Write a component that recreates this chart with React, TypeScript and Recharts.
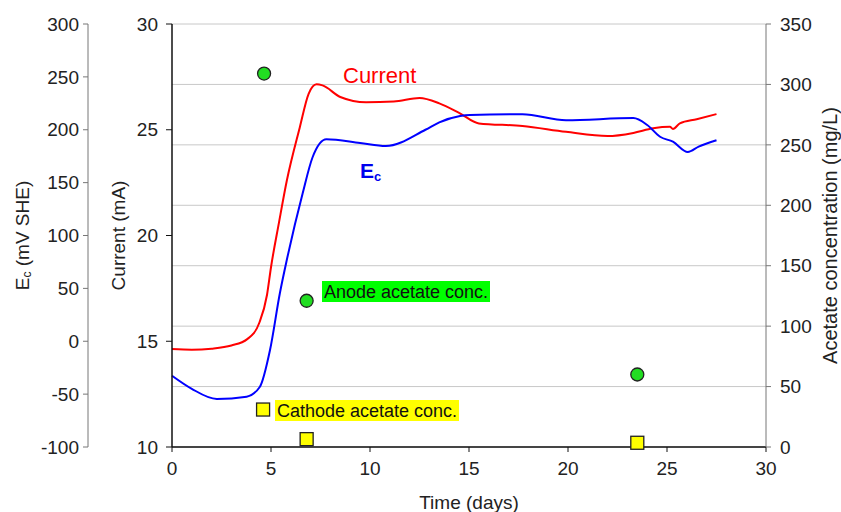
import React from "react";
import { CartesianGrid, ComposedChart, Line, Scatter, XAxis, YAxis } from "recharts";

// current (mA) vs time (days)
const currentDays = [0, 1, 2, 3, 3.8, 4.4, 4.8, 5.0, 5.4, 5.8, 6.45, 6.9, 7.3, 7.6, 8.5, 9.8, 11.2, 12.5, 13.5, 14.5, 15.5, 17.7, 19.9, 22, 23.3, 24.3, 25.15, 25.3, 25.65, 26.5, 27.5];
const currentMa = [14.63, 14.6, 14.65, 14.8, 15.1, 15.85, 17.2, 18.5, 20.6, 22.6, 25.1, 26.7, 27.15, 27.1, 26.55, 26.3, 26.33, 26.5, 26.25, 25.8, 25.3, 25.18, 24.9, 24.7, 24.85, 25.07, 25.14, 25.04, 25.3, 25.5, 25.74];

// cathode potential Ec (mV SHE)
const ecDays = [0, 1, 2.26, 3.77, 4.44, 4.95, 5.45, 5.8, 6.6, 7.1, 7.8, 9.5, 10.8, 12.8, 13.5, 14.55, 15.05, 17.7, 19.9, 23.3, 24.0, 24.65, 25.3, 26.05, 26.6, 27.5];
const ecMv = [-32.6, -45, -54.6, -52.4, -43, -8.3, 45.6, 77, 140, 174, 191, 187.5, 184.6, 200, 207, 213, 214, 214.6, 209, 211, 204.5, 193.4, 188.7, 179, 184, 190];

// acetate samples (mg/L)
const anodeDays = [4.65, 6.8, 23.5];
const anodeAcetate = [309, 121, 60];
const cathodeDays = [4.6, 6.8, 23.5];
const cathodeAcetate = [31, 6.5, 3.5];

const dayTicks = [0, 5, 10, 15, 20, 25, 30];
const ecTicks = [-100, -50, 0, 50, 100, 150, 200, 250, 300];
const currentTicks = [10, 15, 20, 25, 30];
const acetateTicks = [0, 50, 100, 150, 200, 250, 300, 350];

const toPoints = (xs: number[], ys: number[]) => xs.map((day, i) => ({ day, value: ys[i] }));

const FONT = "'Liberation Sans', Arial, sans-serif";
const tickStyle = { fontSize: 19, fill: "#222", fontFamily: FONT };

function EcTitle(props: any) {
  const { viewBox } = props;
  const cx = viewBox.x + 22;
  const cy = viewBox.y + viewBox.height / 2;
  return (
    <text x={cx} y={cy} transform={`rotate(-90 ${cx} ${cy})`} textAnchor="middle" dominantBaseline="central" fontSize={19} fill="#222" fontFamily={FONT}>
      E<tspan fontSize={12} dy={5}>c</tspan>
      <tspan dy={-5}> (mV SHE)</tspan>
    </text>
  );
}

function RotTitle(props: any) {
  const { viewBox, dx, text, size } = props;
  const cx = viewBox.x + dx;
  const cy = viewBox.y + viewBox.height / 2;
  return (
    <text x={cx} y={cy} transform={`rotate(-90 ${cx} ${cy})`} textAnchor="middle" dominantBaseline="central" fontSize={size} fill="#222" fontFamily={FONT}>
      {text}
    </text>
  );
}

function TimeTitle(props: any) {
  const { viewBox } = props;
  return (
    <text x={viewBox.x + viewBox.width / 2} y={509} textAnchor="middle" fontSize={19} fill="#222" fontFamily={FONT}>
      Time (days)
    </text>
  );
}

const GreenDot = (p: any) => <circle cx={p.cx} cy={p.cy} r={6.5} fill="#22dd22" stroke="#222" strokeWidth={1.3} />;
const YellowBox = (p: any) => <rect x={p.cx - 6.5} y={p.cy - 6.5} width={13} height={13} fill="#ffff00" stroke="#222" strokeWidth={1.3} />;

export default function App() {
  return (
    <div style={{ position: "absolute", left: 0, top: 0, width: 841, height: 512, background: "#fff" }}>
      <ComposedChart width={841} height={512} margin={{ top: 24, right: 0, bottom: 0, left: 0 }}>
        <CartesianGrid yAxisId="acetate" vertical={false} stroke="#c8c8c8" />
        <XAxis
          dataKey="day"
          type="number"
          domain={[0, 30]}
          ticks={dayTicks}
          height={65}
          tick={tickStyle}
          tickSize={5}
          tickMargin={10}
          axisLine={{ stroke: "#111", strokeWidth: 1.5 }}
          tickLine={{ stroke: "#111" }}
          label={<TimeTitle />}
        />
        <YAxis
          yAxisId="current"
          orientation="left"
          width={84}
          domain={[10, 30]}
          ticks={currentTicks}
          tick={tickStyle}
          tickSize={6}
          tickMargin={8}
          axisLine={{ stroke: "#111", strokeWidth: 1.5 }}
          tickLine={{ stroke: "#111" }}
          label={<RotTitle dx={30} text="Current (mA)" size={19} />}
        />
        <YAxis
          yAxisId="ec"
          orientation="left"
          width={88}
          domain={[-100, 300]}
          ticks={ecTicks}
          tick={tickStyle}
          tickSize={5}
          tickMargin={4}
          axisLine={{ stroke: "#777" }}
          tickLine={{ stroke: "#777" }}
          label={<EcTitle />}
        />
        <YAxis
          yAxisId="acetate"
          orientation="right"
          width={75}
          domain={[0, 350]}
          ticks={acetateTicks}
          tick={tickStyle}
          tickSize={5}
          tickMargin={9}
          axisLine={{ stroke: "#777" }}
          tickLine={{ stroke: "#777" }}
          label={<RotTitle dx={64} text="Acetate concentration (mg/L)" size={20} />}
        />
        <Line yAxisId="current" data={toPoints(currentDays, currentMa)} dataKey="value" type="monotone" stroke="#ff0000" strokeWidth={2} dot={false} isAnimationActive={false} />
        <Line yAxisId="ec" data={toPoints(ecDays, ecMv)} dataKey="value" type="monotone" stroke="#0000ff" strokeWidth={2} dot={false} isAnimationActive={false} />
        <Scatter yAxisId="acetate" data={toPoints(anodeDays, anodeAcetate)} dataKey="value" shape={GreenDot} isAnimationActive={false} />
        <Scatter yAxisId="acetate" data={toPoints(cathodeDays, cathodeAcetate)} dataKey="value" shape={YellowBox} isAnimationActive={false} />
      </ComposedChart>
      <svg width={841} height={512} style={{ position: "absolute", left: 0, top: 0, pointerEvents: "none" }} fontFamily={FONT}>
        <text x={343} y={83} fontSize={22} fill="#ff0000">Current</text>
        <text x={360} y={178} fontSize={21} fill="#0000ee" fontWeight="bold">
          E<tspan fontSize={13} dy={3}>c</tspan>
        </text>
        <rect x={322} y={281} width={168} height={21} fill="#00ff00" />
        <text x={324} y={298} fontSize={18} fill="#111">Anode acetate conc.</text>
        <rect x={275} y={400} width={184} height={21} fill="#ffff00" />
        <text x={277} y={417} fontSize={18} fill="#111">Cathode acetate conc.</text>
      </svg>
    </div>
  );
}
